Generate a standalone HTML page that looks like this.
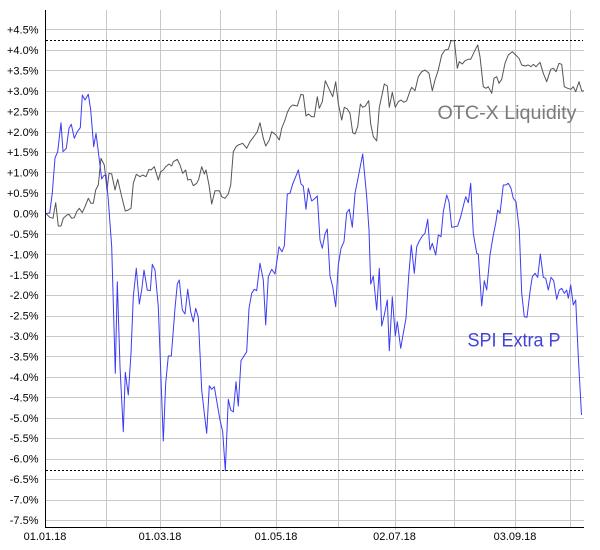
<!DOCTYPE html>
<html>
<head>
<meta charset="utf-8">
<style>
html,body{margin:0;padding:0;background:#fff;}
svg{display:block;}
text{font-family:"Liberation Sans",Arial,sans-serif;}
</style>
</head>
<body>
<svg width="600" height="550" viewBox="0 0 600 550" xmlns="http://www.w3.org/2000/svg">
<rect width="600" height="550" fill="#fff"/>
<!-- horizontal grid -->
<g stroke="#c8c8c8" stroke-width="1" shape-rendering="crispEdges">
<line x1="45" x2="584" y1="29.5" y2="29.5"/>
<line x1="45" x2="584" y1="50.5" y2="50.5"/>
<line x1="45" x2="584" y1="70.5" y2="70.5"/>
<line x1="45" x2="584" y1="91.5" y2="91.5"/>
<line x1="45" x2="584" y1="111.5" y2="111.5"/>
<line x1="45" x2="584" y1="132.5" y2="132.5"/>
<line x1="45" x2="584" y1="152.5" y2="152.5"/>
<line x1="45" x2="584" y1="172.5" y2="172.5"/>
<line x1="45" x2="584" y1="193.5" y2="193.5"/>
<line x1="45" x2="584" y1="213.5" y2="213.5"/>
<line x1="45" x2="584" y1="234.5" y2="234.5"/>
<line x1="45" x2="584" y1="254.5" y2="254.5"/>
<line x1="45" x2="584" y1="275.5" y2="275.5"/>
<line x1="45" x2="584" y1="295.5" y2="295.5"/>
<line x1="45" x2="584" y1="316.5" y2="316.5"/>
<line x1="45" x2="584" y1="336.5" y2="336.5"/>
<line x1="45" x2="584" y1="356.5" y2="356.5"/>
<line x1="45" x2="584" y1="377.5" y2="377.5"/>
<line x1="45" x2="584" y1="397.5" y2="397.5"/>
<line x1="45" x2="584" y1="418.5" y2="418.5"/>
<line x1="45" x2="584" y1="438.5" y2="438.5"/>
<line x1="45" x2="584" y1="459.5" y2="459.5"/>
<line x1="45" x2="584" y1="479.5" y2="479.5"/>
<line x1="45" x2="584" y1="500.5" y2="500.5"/>
<line x1="45" x2="584" y1="520.5" y2="520.5"/>
</g>
<!-- vertical grid -->
<g stroke="#c8c8c8" stroke-width="1" shape-rendering="crispEdges">
<line x1="106.5" x2="106.5" y1="10" y2="527"/>
<line x1="160.5" x2="160.5" y1="10" y2="530"/>
<line x1="220.5" x2="220.5" y1="10" y2="527"/>
<line x1="276.5" x2="276.5" y1="10" y2="530"/>
<line x1="338.5" x2="338.5" y1="10" y2="527"/>
<line x1="395.5" x2="395.5" y1="10" y2="530"/>
<line x1="454.5" x2="454.5" y1="10" y2="527"/>
<line x1="515.5" x2="515.5" y1="10" y2="530"/>
<line x1="570.5" x2="570.5" y1="10" y2="527"/>
</g>
<!-- dotted extreme lines -->
<g stroke="#000" stroke-width="1" stroke-dasharray="2,2" shape-rendering="crispEdges">
<line x1="46" x2="583" y1="40.5" y2="40.5"/>
<line x1="46" x2="583" y1="470.5" y2="470.5"/>
</g>
<!-- axes -->
<g stroke="#000" stroke-width="1" shape-rendering="crispEdges">
<line x1="45.5" x2="45.5" y1="10" y2="528"/>
<line x1="45" x2="584" y1="527.5" y2="527.5"/>
</g>
<!-- y labels -->
<g font-size="11" fill="#000" text-anchor="end">
<text x="38.5" y="33.5">+4.5%</text>
<text x="38.5" y="54">+4.0%</text>
<text x="38.5" y="74.5">+3.5%</text>
<text x="38.5" y="95">+3.0%</text>
<text x="38.5" y="115.5">+2.5%</text>
<text x="38.5" y="136">+2.0%</text>
<text x="38.5" y="156">+1.5%</text>
<text x="38.5" y="176.5">+1.0%</text>
<text x="38.5" y="197">+0.5%</text>
<text x="38.5" y="217.5">0.0%</text>
<text x="38.5" y="238">-0.5%</text>
<text x="38.5" y="258.5">-1.0%</text>
<text x="38.5" y="279">-1.5%</text>
<text x="38.5" y="299">-2.0%</text>
<text x="38.5" y="319.5">-2.5%</text>
<text x="38.5" y="340">-3.0%</text>
<text x="38.5" y="360.5">-3.5%</text>
<text x="38.5" y="381">-4.0%</text>
<text x="38.5" y="401.5">-4.5%</text>
<text x="38.5" y="422">-5.0%</text>
<text x="38.5" y="442">-5.5%</text>
<text x="38.5" y="462.5">-6.0%</text>
<text x="38.5" y="483">-6.5%</text>
<text x="38.5" y="503.5">-7.0%</text>
<text x="38.5" y="524">-7.5%</text>
</g>
<!-- x labels -->
<g font-size="11" fill="#000" text-anchor="middle">
<text x="45" y="540">01.01.18</text>
<text x="160" y="540">01.03.18</text>
<text x="276" y="540">01.05.18</text>
<text x="394.5" y="540">02.07.18</text>
<text x="515" y="540">03.09.18</text>
</g>
<!-- gray series -->
<polyline fill="none" stroke="#555555" stroke-width="1" stroke-linejoin="round" points="46,213.5 49.7,217.3 53,218.3 55.7,202.7 58.3,226 61,226 63.3,218.3 67,215 69,214.3 71.7,218.3 74.3,217.7 76.7,211.7 79.3,208.3 82.3,212.7 85,206.7 88.3,198.3 91,203.3 93.3,203.3 95.7,190 98.3,185 101,158.3 104.3,165 107,190 109,173.3 111.7,174 115,190 117.7,179.3 121.7,196.7 125.3,211 128.3,210 131,208.3 133.3,183.3 136.3,174.3 140,176.7 142.7,175 146,176.7 149,169.3 151,170 154.3,166.7 158.3,180 160.7,171.7 163.3,170 165.7,166.7 169,164 171.7,166 173.3,161.7 177.3,159.3 180,165 182.7,173.3 185.7,170 187.7,180 190.7,179.3 193.3,185.7 196.7,183.3 198.7,179.3 201.7,166.7 204.3,174 206,170 209,185 211.7,204 215,190.7 219.3,190.7 221.7,196.7 225,198.3 228.3,194 230.7,185 233.3,151.7 236,146.7 238.3,145 242.7,143.3 246.7,148.3 250,141.7 255,135 257.3,131.7 260,122.7 263.3,138.3 265.7,146 269.3,140 271.7,131.7 276,135 279.3,140 281.7,128.3 285,120 287.5,112 290,107.3 292.7,105 297.3,106 301,94.3 303.3,95 306,116 308.3,114 311.7,116.7 314.3,116.7 317.3,96.7 319.3,108.3 322.3,101.7 325.3,80.7 328.3,87.3 332.7,96.7 335.7,81.7 338.3,103.3 341.7,120 344.3,107.3 347.3,109 350,113.3 352.7,132.7 355,134 357.7,126.7 360.3,104 362.7,107.3 365.3,106 368.7,100.7 370.7,124 373.3,136.7 376.7,141 379.3,107.3 382,95 384.3,84 387.3,86 389.3,107.3 392.3,92.3 395.3,107.3 398.3,101.7 401,100 404,102.3 406.7,100.7 410,91 411.7,87.3 415,90.7 418.3,76.7 421.7,71.7 425,70 429,73.3 432.3,90.7 435,80 438.3,70 441.7,55 445,50 448.3,49.3 451,40.7 454.3,40.7 457.3,68.3 459.3,61.7 462.3,64 465,60.7 468.3,59.3 470.7,59.3 474.3,51.7 477.7,45 480,56.7 483.3,86.7 486,88.3 488.3,86.7 491.7,93.3 494,78.3 496.7,76.7 499,83.3 501.7,79.3 505,63.3 508.3,55 512.3,51.7 515.7,55 519,58.3 521.7,65 525,66 528.3,65 531,66.7 533.3,64.3 536,66.7 540,62.3 543.3,73.3 546.7,81.7 550.7,69.3 553.3,68.3 556,71.7 559,63.3 561.7,64.3 564.3,86.7 567.7,88.3 571,89.3 573.3,86.7 575.7,91.7 579,81.7 581.7,90.7 584,91"/>
<!-- blue series -->
<polyline fill="none" stroke="#3c3cf5" stroke-width="1" stroke-linejoin="round" points="46,213.5 49.7,213 52.3,193 55,158 57.7,151.7 61,122.7 63,151.7 66.3,148.3 69,128.3 71.3,124.3 74.3,138.3 77.3,131.7 80.3,127.7 82.3,95 85,100 88.3,94.3 90.7,110 93.7,146.7 96,133.3 98.3,151.7 101.7,179 103.7,175.7 106,175 108.3,200 111.7,246.7 115.3,373.3 117.3,281.7 120,366.7 123.3,431.7 125.3,372.3 128.3,395 131,353.3 133.3,296.7 136.3,268.3 139.3,304 141.7,290 144,270 147.3,290 150.3,290.7 152.3,264.3 155,270 158.3,306.7 160.3,360 163.3,441 165.7,383.3 168.3,356 171.3,356 175,308.3 177.3,284 179.3,280 182.3,310 185,314 187.7,289.3 190.7,311.7 193.3,321.7 195.7,308.3 198.3,317.3 201.7,390 204.3,413.3 206.7,433.3 209.3,385.7 211.7,389.3 214.3,386.7 217.7,406.7 220,420 222.7,431.7 225.3,470.7 228.3,399.3 230.7,410 233.3,412 236,381.7 238.3,406 241,360.7 244,356 246.7,351.7 249,308.3 251.7,293.3 254.3,289.3 256.7,290.7 260,263.3 263.3,280 265.7,325 268.3,276.7 271.7,269.3 275,274 279,246.7 282,251.7 284.3,246 287.3,194 290,193.3 292.7,184 295.7,176.7 298.3,170 301,184 303.3,186 306,209.3 308.3,188.3 311.7,201 314.3,199 317.3,196 320,240 322.3,248.3 325,234 327.3,229 330,276 332.7,286.7 335.7,306.7 338.3,265 341,248.3 344,241.7 346.7,212.7 349.3,209.3 352.3,227.3 355,193.3 358.3,176.7 362.7,154 366.7,196.7 369,230 370.7,284 373.3,276 376.7,310 379.3,268.3 381.7,326 384.3,315 387.3,300 389.3,350.7 392.3,296.7 395.3,336 397.3,321.7 400.7,348.3 403.3,333.3 406,318.3 408.7,276 411.3,245 414.3,273.3 416.7,246.7 419.3,241 422.3,236 425,233.3 427.7,219.3 430,250 432.3,243.3 435.7,255 438.3,235 441,236.7 443.3,211.7 446.7,195 449,201.7 451.7,227.3 455,226.7 457.7,226 460.7,216.7 463.3,206 465.7,196.7 468.3,202.7 470.7,183.3 473.3,233.3 476.7,253.3 478.3,254 481.7,306 484.3,280.7 486.7,290 490,255 493.3,235 495.7,223.3 497.7,210 500,213.3 503.3,185 505.7,185 508.3,183.3 511,188.3 513.3,198.3 516,201.7 519.3,230 521.7,293.3 524.3,316.7 527,317.3 530,291.7 532.3,276.7 535,273.3 537.7,277.3 540.3,254 543.3,277.3 545.7,278.3 548.3,290 551,277.3 553.7,280.7 556.7,299.3 559.3,290 561.7,288.3 564.3,293.3 566.7,290 568.3,298.3 570.7,285 573.3,305 575.7,300 578.3,356.7 581.5,415"/>
<!-- series labels -->
<text x="437.5" y="119" font-size="19" fill="#7a7a7a" textLength="139" lengthAdjust="spacingAndGlyphs">OTC-X Liquidity</text>
<text x="467.5" y="346.5" font-size="19" fill="#4343d8" textLength="93" lengthAdjust="spacingAndGlyphs">SPI Extra P</text>
</svg>
</body>
</html>
